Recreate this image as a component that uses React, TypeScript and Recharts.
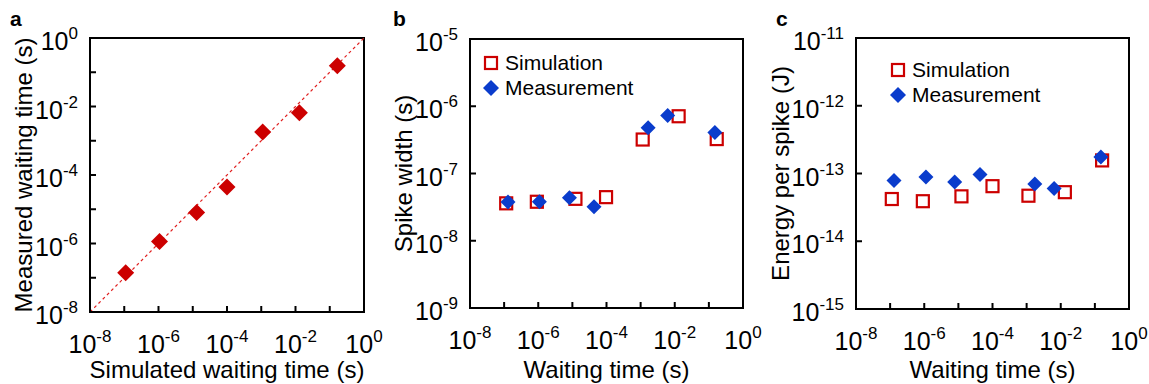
import React from "react";
import {
  ScatterChart,
  Scatter,
  XAxis,
  YAxis,
  ReferenceLine,
  ReferenceArea,
  Legend,
} from "recharts";

const FONT = '"Liberation Sans", Arial, Helvetica, sans-serif';
const RED = "#cc0000";
const BLUE = "#0a3ccc";

// decade ticks
const waitTicks = [1e-8, 1e-7, 1e-6, 1e-5, 1e-4, 1e-3, 1e-2, 1e-1, 1];
const measTicksA = [1e-8, 1e-7, 1e-6, 1e-5, 1e-4, 1e-3, 1e-2, 1e-1, 1];
const spikeTicks = [1e-9, 1e-8, 1e-7, 1e-6, 1e-5];
const energyTicks = [1e-15, 1e-14, 1e-13, 1e-12, 1e-11];

const legendNames = ["Simulation", "Measurement"];

// panel a: simulated vs measured waiting time
const simWaitA = [1.1e-7, 1.07e-6, 1.3e-5, 1e-4, 1.1e-3, 1.3e-2, 0.166];
const measWaitA = [1.4e-7, 1.15e-6, 8.1e-6, 4.5e-5, 1.8e-3, 6.6e-3, 0.155];

// panel b: spike width
const simWaitB = [1.15e-7, 9.1e-7, 1.23e-5, 9.7e-5, 1.15e-3, 1.3e-2, 0.17];
const simWidth = [3.6e-8, 3.8e-8, 4.2e-8, 4.45e-8, 3.2e-7, 7.1e-7, 3.25e-7];
const measWaitB = [1.3e-7, 1.08e-6, 8.2e-6, 4.3e-5, 1.66e-3, 6.2e-3, 0.15];
const measWidth = [3.76e-8, 3.8e-8, 4.35e-8, 3.2e-8, 4.8e-7, 7.3e-7, 4.07e-7];

// panel c: energy per spike
const simWaitC = [1.12e-7, 9.1e-7, 1.23e-5, 1e-4, 1.13e-3, 1.32e-2, 0.163];
const simEnergy = [4.2e-14, 3.9e-14, 4.6e-14, 6.5e-14, 4.7e-14, 5.3e-14, 1.56e-13];
const measWaitC = [1.3e-7, 1.12e-6, 7.8e-6, 4.3e-5, 1.74e-3, 6.4e-3, 0.15];
const measEnergy = [7.9e-14, 8.9e-14, 7.5e-14, 9.7e-14, 7e-14, 6e-14, 1.75e-13];

const toPoints = (xs: number[], ys: number[]) => xs.map((x, i) => ({ x, y: ys[i] }));

function Diamond(props: any) {
  const { cx, cy, r = 8, fill } = props;
  if (cx == null || cy == null) return null;
  return (
    <polygon
      points={`${cx},${cy - r} ${cx + r},${cy} ${cx},${cy + r} ${cx - r},${cy}`}
      fill={fill}
    />
  );
}

function Square(props: any) {
  const { cx, cy } = props;
  if (cx == null || cy == null) return null;
  return (
    <rect x={cx - 6} y={cy - 6} width={12} height={12} fill="none" stroke={RED} strokeWidth={2.2} />
  );
}

function LogTick(props: any) {
  const { x, y, payload, axis, every } = props;
  const exp = Math.round(Math.log10(payload.value));
  if (exp % every !== 0) return <g />;
  const isX = axis === "x";
  return (
    <text
      x={x}
      y={isX ? y : y + 12}
      textAnchor={isX ? "middle" : "end"}
      fontFamily={FONT}
      fontSize={25}
      fill="#000"
    >
      <tspan>10</tspan>
      <tspan dy={-11} fontSize={17}>
        {exp}
      </tspan>
    </text>
  );
}

function LegendBox() {
  return (
    <div style={{ fontFamily: FONT, fontSize: 21, color: "#000", lineHeight: "25px" }}>
      {legendNames.map((name) => (
        <div key={name} style={{ display: "flex", alignItems: "center", height: 25 }}>
          <svg width={16} height={16}>
            {name === "Simulation" ? (
              <rect x={2} y={2} width={12} height={12} fill="none" stroke={RED} strokeWidth={2.2} />
            ) : (
              <polygon points="8,0 16,8 8,16 0,8" fill={BLUE} />
            )}
          </svg>
          <span style={{ marginLeft: 6, whiteSpace: "nowrap" }}>{name}</span>
        </div>
      ))}
    </div>
  );
}

const panelLetter = (ch: string) => (
  <div
    style={{
      position: "absolute",
      left: 10,
      top: 8,
      fontFamily: FONT,
      fontWeight: "bold",
      fontSize: 21,
      lineHeight: "21px",
      zIndex: 2,
    }}
  >
    {ch}
  </div>
);

const tickLine = { stroke: "#000", strokeWidth: 2 };
const titleStyle = { fontSize: 24, fill: "#000", fontFamily: FONT };

function xAxisProps(height: number) {
  return {
    type: "number" as const,
    dataKey: "x",
    scale: "log" as const,
    domain: [1e-8, 1],
    allowDataOverflow: true,
    ticks: waitTicks,
    interval: 0,
    tickSize: -6,
    tickMargin: 47,
    axisLine: false,
    tickLine,
    height,
    tick: (p: any) => <LogTick {...p} axis="x" every={2} />,
  };
}

export default function App() {
  return (
    <div style={{ position: "absolute", left: 0, top: 0, width: 1149, height: 384, display: "flex", background: "#fff" }}>
      {/* a */}
      <div style={{ position: "relative", width: 383, height: 384 }}>
        {panelLetter("a")}
        <ScatterChart width={383} height={384} margin={{ top: 38, right: 19, bottom: 0, left: 20 }}>
          <XAxis
            {...xAxisProps(72)}
            label={{ value: "Simulated waiting time (s)", position: "insideBottom", offset: 6, ...titleStyle }}
          />
          <YAxis
            type="number"
            dataKey="y"
            scale="log"
            domain={[1e-8, 1]}
            allowDataOverflow
            ticks={measTicksA}
            interval={0}
            width={70}
            tickSize={-6}
            tickMargin={18}
            axisLine={false}
            tickLine={tickLine}
            tick={(p: any) => <LogTick {...p} axis="y" every={2} />}
            label={{ value: "Measured waiting time (s)", angle: -90, position: "insideLeft", offset: 3, ...titleStyle, style: { textAnchor: "middle" } }}
          />
          <ReferenceArea x1={1e-8} x2={1} y1={1e-8} y2={1} fill="none" stroke="#000" strokeWidth={2} />
          <ReferenceLine
            segment={[{ x: 1e-8, y: 1e-8 }, { x: 1, y: 1 }]}
            stroke="#e02020"
            strokeDasharray="3 3"
            strokeWidth={1.2}
          />
          <Scatter
            data={toPoints(simWaitA, measWaitA)}
            isAnimationActive={false}
            shape={(p: any) => <Diamond {...p} r={8.5} fill={RED} />}
          />
        </ScatterChart>
      </div>

      {/* b */}
      <div style={{ position: "relative", width: 383, height: 384 }}>
        {panelLetter("b")}
        <ScatterChart width={383} height={384} margin={{ top: 39, right: 23, bottom: 0, left: 17 }}>
          <XAxis
            {...xAxisProps(76)}
            label={{ value: "Waiting time (s)", position: "insideBottom", offset: 6, ...titleStyle }}
          />
          <YAxis
            type="number"
            dataKey="y"
            scale="log"
            domain={[1e-9, 1e-5]}
            allowDataOverflow
            ticks={spikeTicks}
            interval={0}
            width={70}
            tickSize={-6}
            tickMargin={18}
            axisLine={false}
            tickLine={tickLine}
            tick={(p: any) => <LogTick {...p} axis="y" every={1} />}
            label={{ value: "Spike width (s)", angle: -90, position: "insideLeft", offset: 3.5, ...titleStyle, style: { textAnchor: "middle" } }}
          />
          <ReferenceArea x1={1e-8} x2={1} y1={1e-9} y2={1e-5} fill="none" stroke="#000" strokeWidth={2} />
          <Legend
            layout="vertical"
            align="center"
            verticalAlign="middle"
            wrapperStyle={{ left: 100, top: 50, width: "auto" }}
            content={LegendBox}
          />
          <Scatter
            name="Simulation"
            data={toPoints(simWaitB, simWidth)}
            isAnimationActive={false}
            shape={(p: any) => <Square {...p} />}
          />
          <Scatter
            name="Measurement"
            data={toPoints(measWaitB, measWidth)}
            isAnimationActive={false}
            shape={(p: any) => <Diamond {...p} r={7.5} fill={BLUE} />}
          />
        </ScatterChart>
      </div>

      {/* c */}
      <div style={{ position: "relative", width: 383, height: 384 }}>
        {panelLetter("c")}
        <ScatterChart width={383} height={384} margin={{ top: 38, right: 20, bottom: 0, left: 10 }}>
          <XAxis
            {...xAxisProps(75)}
            label={{ value: "Waiting time (s)", position: "insideBottom", offset: 6, ...titleStyle }}
          />
          <YAxis
            type="number"
            dataKey="y"
            scale="log"
            domain={[1e-15, 1e-11]}
            allowDataOverflow
            ticks={energyTicks}
            interval={0}
            width={80}
            tickSize={-6}
            tickMargin={18}
            axisLine={false}
            tickLine={tickLine}
            tick={(p: any) => <LogTick {...p} axis="y" every={1} />}
            label={{ value: "Energy per spike (J)", angle: -90, position: "insideLeft", offset: 4, ...titleStyle, style: { textAnchor: "middle" } }}
          />
          <ReferenceArea x1={1e-8} x2={1} y1={1e-15} y2={1e-11} fill="none" stroke="#000" strokeWidth={2} />
          <Legend
            layout="vertical"
            align="center"
            verticalAlign="middle"
            wrapperStyle={{ left: 124, top: 57, width: "auto" }}
            content={LegendBox}
          />
          <Scatter
            name="Simulation"
            data={toPoints(simWaitC, simEnergy)}
            isAnimationActive={false}
            shape={(p: any) => <Square {...p} />}
          />
          <Scatter
            name="Measurement"
            data={toPoints(measWaitC, measEnergy)}
            isAnimationActive={false}
            shape={(p: any) => <Diamond {...p} r={7.5} fill={BLUE} />}
          />
        </ScatterChart>
      </div>
    </div>
  );
}
